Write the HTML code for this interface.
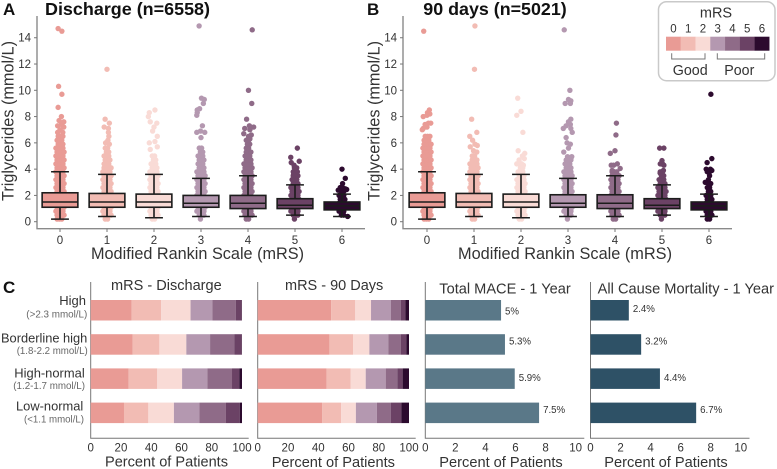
<!DOCTYPE html>
<html lang="en">
<head>
<meta charset="utf-8">
<title>Triglycerides and outcomes by mRS</title>
<style>
html,body{margin:0;padding:0;background:#fff;}
svg{display:block;font-family:"Liberation Sans",Arial,sans-serif;filter:blur(0.3px);}
text{fill:#333;}
</style>
</head>
<body>
<svg id="chart" width="777" height="469" viewBox="0 0 777 469" xmlns="http://www.w3.org/2000/svg">
  <text x="3" y="15" font-size="17" font-weight="700" fill="#111" style="fill:#111">A</text>
  <text x="367" y="15" font-size="17" font-weight="700" style="fill:#111">B</text>
  <text x="3" y="293" font-size="17" font-weight="700" style="fill:#111">C</text>
  <text x="45" y="15" font-size="17.9" font-weight="700" textLength="165" lengthAdjust="spacingAndGlyphs" style="fill:#111">Discharge (n=6558)</text>
  <text x="423.3" y="15" font-size="17.9" font-weight="700" textLength="143.4" lengthAdjust="spacingAndGlyphs" style="fill:#111">90 days (n=5021)</text>
  <text transform="translate(13.5,201) rotate(-90)" font-size="16.2" textLength="160" lengthAdjust="spacingAndGlyphs">Triglycerides (mmol/L)</text>
  <text transform="translate(379.5,201) rotate(-90)" font-size="16.2" textLength="160" lengthAdjust="spacingAndGlyphs">Triglycerides (mmol/L)</text>
  <text x="91" y="259" font-size="16.2" textLength="213" lengthAdjust="spacingAndGlyphs">Modified Rankin Scale (mRS)</text>
  <text x="458" y="259" font-size="16.2" textLength="214" lengthAdjust="spacingAndGlyphs">Modified Rankin Scale (mRS)</text>

  <g id="boxA"></g>
  <g id="boxB"></g>
  <g id="barsC"></g>

  <text x="86" y="305" text-anchor="end" font-size="13">High</text>
  <text x="26.3" y="317.3" font-size="10.1" textLength="61" lengthAdjust="spacingAndGlyphs" style="fill:#666">(&gt;2.3 mmol/L)</text>
  <text x="1" y="342.3" font-size="12.9" textLength="86.3" lengthAdjust="spacingAndGlyphs">Borderline high</text>
  <text x="16.7" y="354" font-size="10.2" textLength="71" lengthAdjust="spacingAndGlyphs" style="fill:#666">(1.8-2.2 mmol/L)</text>
  <text x="14.3" y="377.3" font-size="13" textLength="70.4" lengthAdjust="spacingAndGlyphs">High-normal</text>
  <text x="13.3" y="389" font-size="10.2" textLength="71.7" lengthAdjust="spacingAndGlyphs" style="fill:#666">(1.2-1.7 mmol/L)</text>
  <text x="16" y="410.7" font-size="13" textLength="67.3" lengthAdjust="spacingAndGlyphs">Low-normal</text>
  <text x="24" y="422.7" font-size="10.1" textLength="60" lengthAdjust="spacingAndGlyphs" style="fill:#666">(&lt;1.1 mmol/L)</text>

  <text x="111" y="290" font-size="14.5" textLength="110.7" lengthAdjust="spacingAndGlyphs">mRS - Discharge</text>
  <text x="285" y="290" font-size="14.5" textLength="98.3" lengthAdjust="spacingAndGlyphs">mRS - 90 Days</text>
  <text x="439.3" y="293.3" font-size="14.5" textLength="131.4" lengthAdjust="spacingAndGlyphs">Total MACE - 1 Year</text>
  <text x="597.7" y="293.3" font-size="14.5" textLength="176.3" lengthAdjust="spacingAndGlyphs">All Cause Mortality - 1 Year</text>
  <text x="105" y="466.7" font-size="14.6" textLength="123" lengthAdjust="spacingAndGlyphs">Percent of Patients</text>
  <text x="271.7" y="467" font-size="14.6" textLength="123.3" lengthAdjust="spacingAndGlyphs">Percent of Patients</text>
  <text x="439.3" y="467" font-size="14.6" textLength="123.4" lengthAdjust="spacingAndGlyphs">Percent of Patients</text>
  <text x="604.3" y="467" font-size="14.6" textLength="123.4" lengthAdjust="spacingAndGlyphs">Percent of Patients</text>

  <g>
    <rect x="658.5" y="1.7" width="116.5" height="79" rx="8" fill="#fff" stroke="#c9c9c9" stroke-width="1.5"/>
    <text x="716" y="17.3" text-anchor="middle" font-size="14.5">mRS</text>
    <g id="legendScale"></g>
    <path d="M671.7 53.3V59H705V53.3" fill="none" stroke="#777" stroke-width="1"/>
    <path d="M717.3 53.3V59H764.7V53.3" fill="none" stroke="#777" stroke-width="1"/>
    <text x="672.7" y="75" font-size="14.3" textLength="35" lengthAdjust="spacingAndGlyphs">Good</text>
    <text x="724.3" y="75" font-size="14.3" textLength="30" lengthAdjust="spacingAndGlyphs">Poor</text>
  </g>
</svg>

<script>
// ---- Shared categories and colours ----
var mrsCategories = ["0", "1", "2", "3", "4", "5", "6"];
var mrsColors = ["#e99b95", "#f2bcb4", "#f9dbd6", "#b498b0", "#8f6b88", "#6b4265", "#2c0a2e"];
var tgTicks = [0, 2, 4, 6, 8, 10, 12, 14];

// ---- Box statistics per mRS: low whisker, Q1, median, Q3, high whisker ----
var whiskerLowA = [0.2, 0.4, 0.3, 0.4, 0.4, 0.5, 0.4];
var q1A = [1.1, 1.1, 1.1, 1.1, 1.0, 1.0, 0.9];
var medianA = [1.5, 1.5, 1.5, 1.4, 1.4, 1.25, 1.2];
var q3A = [2.2, 2.15, 2.1, 2.0, 2.0, 1.75, 1.5];
var whiskerHighA = [3.8, 3.6, 3.6, 3.3, 3.5, 2.8, 2.1];
var whiskerLowB = [0.2, 0.4, 0.3, 0.4, 0.4, 0.5, 0.4];
var q1B = [1.1, 1.1, 1.1, 1.1, 1.0, 1.0, 0.9];
var medianB = [1.5, 1.5, 1.5, 1.4, 1.4, 1.25, 1.2];
var q3B = [2.2, 2.15, 2.1, 2.05, 2.05, 1.75, 1.5];
var whiskerHighB = [3.8, 3.6, 3.6, 3.3, 3.5, 2.8, 2.1];

// ---- Dense swarm: how many patients' dots sit at each triglyceride level ----
var swarmLevels = [0.2, 0.5, 0.8, 1.1, 1.4, 1.7, 2.0, 2.3, 2.6, 2.9, 3.2, 3.5, 3.8, 4.1, 4.4, 4.7, 5.0, 5.3, 5.6, 5.9, 6.2, 6.5];
var swarmCountsA = [
  [3,4,4,4,4,4,4,4,4,4,4,4,4,4,4,4,4,4,4,3,3,3],
  [2,4,4,4,4,4,4,4,4,4,4,4,4,4,3,3,3,2,2,0,0,0],
  [2,4,4,4,4,4,4,4,4,4,4,4,4,3,3,2,2,0,0,0,0,0],
  [1,3,4,4,4,4,4,4,4,4,4,4,4,3,3,3,3,2,2,0,0,0],
  [2,4,4,4,4,4,4,4,4,4,4,4,4,4,4,3,3,3,2,2,2,1],
  [1,3,4,4,4,4,4,4,4,3,3,3,2,2,0,0,0,0,0,0,0,0],
  [0,2,3,3,3,3,3,2,2,1,0,0,0,0,0,0,0,0,0,0,0,0]
];
var swarmCountsB = [
  [3,4,4,4,4,4,4,4,4,4,4,4,4,4,4,4,4,4,4,4,3,3],
  [2,4,4,4,4,4,4,4,4,4,4,4,4,4,4,3,2,0,0,0,0,0],
  [2,4,4,4,4,4,4,4,4,4,4,3,3,2,2,0,0,0,0,0,0,0],
  [1,3,4,4,4,4,4,4,4,4,4,4,4,3,3,3,0,0,0,0,0,0],
  [2,4,4,4,4,4,4,4,4,4,4,4,3,0,0,0,0,0,0,0,0,0],
  [1,3,4,4,4,4,4,4,4,3,3,2,2,0,2,0,0,0,0,0,0,0],
  [2,3,3,3,3,3,3,2,2,2,1,1,2,0,0,0,0,0,0,0,0,0]
];

// ---- Individually visible points: [value, horizontal jitter in category units] ----
var outliersA = [
  [[14.7,-.04],[14.5,.04],[10.3,-.03],[9.7,.04],[8.7,-.04],[8,.03],[7.7,-.02],[7.6,.08],[7.4,.03],[7.3,-.05],[7.2,.08],[7,0],[6.8,-.05],[6.8,.06]],
  [[11.6,0],[7.8,-.04],[7.5,.05],[7.2,-.06],[7.1,.03],[6.8,.03],[6.5,.04],[6.2,.02],[6,-.03],[5.9,.05]],
  [[8.5,.02],[8.3,-.1],[8,-.12],[7.6,-.08],[7.5,.06],[7.2,0],[6.9,-.03],[6.5,.07],[6.1,.02],[6,-.1],[5.7,.07],[5.5,-.08]],
  [[14.9,-.04],[9.4,.01],[9.3,.07],[9,.05],[8.6,-.03],[8.5,-.08],[8.3,-.08],[8.1,-.09],[7.3,.03],[6.9,-.01],[6.8,-.09],[6.8,.08],[6.4,0]],
  [[14.6,.09],[10,.01],[9,.08],[7.8,-.03],[7.3,.03],[7.2,.12],[7.1,-.07],[7,.04],[6.7,-.09],[6.6,.07],[6.3,.04]],
  [[5.6,.05],[4.9,-.09],[4.6,.09],[4.5,-.08],[4.3,-.02],[4.1,.01],[3.8,.05],[3.6,-.03]],
  [[4,0],[3.3,.07],[2.5,.07],[2.45,.1],[2.4,-.08],[1.9,-.02],[0.4,.12]]
];
var outliersB = [
  [[14.5,-.07],[8.5,.05],[8.3,.01],[8.2,.06],[8.1,0],[8,-.08],[7.5,.03],[7.5,.08],[7.4,-.04],[7.2,0],[7.1,-.08],[7,-.1]],
  [[14.9,.02],[11.6,.01],[7.8,-.05],[6.8,.06],[6.5,-.09],[6.2,-.03],[5.9,.02],[5.8,.07],[5.7,-.08],[5.4,-.01],[5.3,.06]],
  [[9.4,-.07],[8.4,0],[8.1,-.09],[6.8,.04],[5.4,-.06],[5.2,.08],[5,.03],[4.8,.07],[4.7,-.04],[4.4,-.09],[4.3,.05]],
  [[14.6,-.08],[10,.04],[9.3,.01],[9.2,.06],[9,-.06],[9,.05],[7.8,.06],[7.6,.01],[7.4,.05],[7.3,-.04],[7.1,-.1],[7.1,.06],[6.8,.09],[6.4,-.04],[6,-.02],[5.9,.05],[5.6,.01],[5.3,-.09],[4.95,.08],[4.95,-.01],[4.7,.05]],
  [[7.5,.03],[6.6,.02],[5.4,0],[5.2,-.1],[4.4,.05],[4.3,-.08],[4.3,-.03],[4.05,.11],[3.9,-.06]],
  [[5.6,-.05],[5.6,.04],[4.65,0],[4.4,-.01],[4.3,.04],[3.9,.03],[3.7,-.04]],
  [[9.7,.04],[4.8,.06],[4.5,-.04],[4,-.06],[4,.03],[3.9,.06],[3,-.08],[2.9,.01]]
];

// ---- Panel C data ----
var riskGroups = ["High", "Borderline high", "High-normal", "Low-normal"];
var dischargeShares = [
  [27.1, 19.4, 19.5, 14.4, 15.6, 3.9, 0.1],
  [27.8, 17.6, 17.8, 15.7, 16.1, 4.9, 0.1],
  [25.1, 18.9, 16.4, 16.7, 16.3, 4.8, 1.8],
  [22.0, 16.1, 16.9, 16.8, 17.6, 9.2, 1.4]
];
var ninetyDayShares = [
  [48.5, 16.0, 10.4, 13.2, 6.4, 3.1, 2.4],
  [47.4, 15.6, 10.8, 12.5, 8.2, 3.7, 1.8],
  [45.6, 15.9, 9.9, 13.2, 7.7, 3.5, 4.2],
  [42.7, 12.5, 9.7, 13.9, 9.1, 7.0, 5.1]
];
var maceValues = [5.04, 5.3, 5.95, 7.57];
var maceLabels = ["5%", "5.3%", "5.9%", "7.5%"];
var mortalityValues = [2.55, 3.37, 4.62, 7.03];
var mortalityLabels = ["2.4%", "3.2%", "4.4%", "6.7%"];
var shareTicks = [0, 20, 40, 60, 80, 100];
var rateTicks = [0, 2, 4, 6, 8, 10];

var NS = "http://www.w3.org/2000/svg";
function make(tag, parent, attrs) {
  var el = document.createElementNS(NS, tag);
  for (var k in attrs) el.setAttribute(k, attrs[k]);
  parent.appendChild(el);
  return el;
}

// Axis function shared by panels A and B
function yTG(v) { return 221.7 - 13.14 * v; }

function drawBoxPanel(groupId, axisX, firstCatX, axisEnd, counts, outliers, wLow, q1, med, q3, wHigh) {
  var g = document.getElementById(groupId);
  function xCat(c) { return firstCatX + 47 * c; }

  var axis = make("path", g, { d: "M" + axisX + " 16V228.7H" + axisEnd, fill: "none", stroke: "#8a8a8a", "stroke-width": 1.4 });
  
  

  tgTicks.forEach(function (t) {
    var tick = make("line", g, { x1: axisX - 3, x2: axisX, y1: yTG(t), y2: yTG(t), stroke: "#777", "stroke-width": 1 });
    
    
    var lab = make("text", g, { x: axisX - 6, y: yTG(t) + 4, "text-anchor": "end", "font-size": 11.5 });
    
    
    lab.textContent = t;
  });

  mrsCategories.forEach(function (name, c) {
    var color = mrsColors[c];
    var tick = make("line", g, { x1: xCat(c), x2: xCat(c), y1: 228.7, y2: 232, stroke: "#777", "stroke-width": 1 });
    
    
    var lab = make("text", g, { x: xCat(c), y: 244, "text-anchor": "middle", "font-size": 11.5 });
    
    
    lab.textContent = name;

    swarmLevels.forEach(function (level, i) {
      var n = counts[c][i];
      for (var d = 0; d < n; d++) {
        var stagger = i % 2 ? 0.012 : -0.012;
        var off = (d - (n - 1) / 2) * 0.05 + stagger;
        var dot = make("circle", g, { cx: xCat(c + off), cy: yTG(level), r: 2.7, fill: color });
        
        
      }
    });
    outliers[c].forEach(function (p) {
      var dot = make("circle", g, { cx: xCat(c + p[1]), cy: yTG(p[0]), r: 2.7, fill: color });
      
      
    });

    var dark = "#1c1c1c";
    var whisker = make("line", g, { x1: xCat(c), x2: xCat(c), y1: yTG(wLow[c]), y2: yTG(wHigh[c]), stroke: dark, "stroke-width": 1.6 });
    
    
    [wLow[c], wHigh[c]].forEach(function (v) {
      var cap = make("line", g, { x1: xCat(c - 0.19), x2: xCat(c + 0.19), y1: yTG(v), y2: yTG(v), stroke: dark, "stroke-width": 1.5 });
      
      
    });
    var box = make("rect", g, { x: xCat(c - 0.38), width: 47 * 0.76, y: yTG(q3[c]), height: yTG(q1[c]) - yTG(q3[c]), fill: color, stroke: dark, "stroke-width": 1.6 });
    
    
    var median = make("line", g, { x1: xCat(c - 0.38), x2: xCat(c + 0.38), y1: yTG(med[c]), y2: yTG(med[c]), stroke: dark, "stroke-width": 1.5 });
    
    
  });
}

drawBoxPanel("boxA", 37, 60, 365, swarmCountsA, outliersA, whiskerLowA, q1A, medianA, q3A, whiskerHighA);
drawBoxPanel("boxB", 403, 427, 732, swarmCountsB, outliersB, whiskerLowB, q1B, medianB, q3B, whiskerHighB);

// ---- Panel C ----
var barsC = document.getElementById("barsC");
function bandY(i) { return 300 + 34.2 * i; }
var bandH = 20.5;

function drawBarAxis(axisX, axisEnd, ticks, unit) {
  var axis = make("path", barsC, { d: "M" + axisX + " 282V438.3H" + axisEnd, fill: "none", stroke: "#777", "stroke-width": 1 });
  
  
  ticks.forEach(function (t) {
    var lab = make("text", barsC, { x: axisX + t * unit, y: 451.7, "text-anchor": "middle", "font-size": 11.5 });
    
    
    lab.textContent = t;
  });
}

function drawStacked(axisX, shares) {
  var unit = 1.513;
  drawBarAxis(axisX, axisX + 158, shareTicks, unit);
  riskGroups.forEach(function (group, i) {
    var sum = 0;
    mrsCategories.forEach(function (name, c) {
      var seg = make("rect", barsC, { x: axisX + sum * unit, y: bandY(i), width: shares[i][c] * unit, height: bandH, fill: mrsColors[c] });
      
      
      sum += shares[i][c];
    });
  });
}

function drawRate(axisX, values, labels, color, labelYs) {
  var unit = 15.03;
  drawBarAxis(axisX, axisX + 159, rateTicks, unit);
  riskGroups.forEach(function (group, i) {
    var bar = make("rect", barsC, { x: axisX, y: bandY(i), width: values[i] * unit, height: bandH, fill: color });
    
    
    var lab = make("text", barsC, { x: axisX + values[i] * unit + 4, y: bandY(i) + labelYs[i], "font-size": 9.7 });
    
    
    lab.textContent = labels[i];
  });
}

drawStacked(90.7, dischargeShares);
drawStacked(257.7, ninetyDayShares);
drawRate(425.3, maceValues, maceLabels, "#5a7888", [14.5, 10.5, 12.5, 10.5]);
drawRate(590.5, mortalityValues, mortalityLabels, "#2e5166", [12, 10.5, 12.5, 10.5]);

// ---- Legend scale ----
var legendScale = document.getElementById("legendScale");
mrsCategories.forEach(function (name, c) {
  var swatch = make("rect", legendScale, { x: 666 + 14.76 * c, y: 36.7, width: 14.9, height: 14, fill: mrsColors[c] });
  
  
  var lab = make("text", legendScale, { x: 673.4 + 14.76 * c, y: 32.7, "text-anchor": "middle", "font-size": 11.5 });
  
  
  lab.textContent = name;
});
</script>
</body>
</html>
